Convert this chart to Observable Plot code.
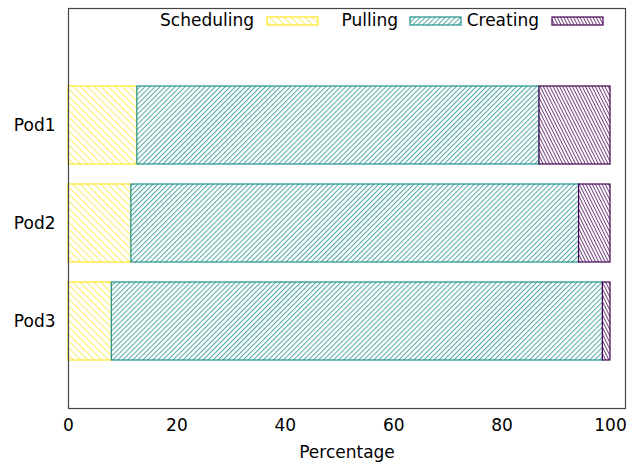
<!DOCTYPE html>
<html>
<head>
<meta charset="utf-8">
<script src="https://cdn.jsdelivr.net/npm/d3@7"></script>
<script src="https://cdn.jsdelivr.net/npm/@observablehq/plot@0.6"></script>
<style>
  body { margin: 0; background: #fff; }
  #chart svg { display: block; }
</style>
</head>
<body>
<div id="chart"></div>
<script>
// ---- data ----
const pods = ["Pod1", "Pod2", "Pod3"];
const stages = ["Scheduling", "Pulling", "Creating"];
const scheduling = [12.7, 11.6, 8.0];
const pulling = [74.2, 82.6, 90.6];
const creating = [13.1, 5.8, 1.4];
const xTicks = [0, 20, 40, 60, 80, 100];

// ---- styles ----
const stageColors = {Scheduling: "#fde725", Pulling: "#21918c", Creating: "#440154"};
const stagePatterns = {
  Scheduling: {id: "pat-sched", spacing: 4.95, angle: -45, opacity: 0.75},
  Pulling: {id: "pat-pull", spacing: 3.55, angle: 45, opacity: 0.8},
  Creating: {id: "pat-create", spacing: 2.9, angle: -26.6, opacity: 0.75}
};

const series = [scheduling, pulling, creating];
const table = [];
pods.forEach((pod, i) => {
  stages.forEach((stage, j) => {
    table.push({pod, stage, value: series[j][i]});
  });
});

const W = 639, H = 466;
const mL = 68, mR = 14, mT = 8, mB = 58;
const xMax = (W - mR - mL) / 542 * 100;

const chart = Plot.plot({
  width: W,
  height: H,
  marginLeft: mL,
  marginRight: mR,
  marginTop: mT,
  marginBottom: mB,
  style: {fontFamily: "DejaVu Sans", fontSize: "17px", color: "#000", background: "#fff"},
  x: {domain: [0, xMax]},
  y: {domain: pods, range: [76, 370], paddingInner: 0.2, paddingOuter: 0.1},
  color: {type: "identity"},
  marks: [
    Plot.barX(table, Plot.stackX({
      x: "value",
      y: "pod",
      order: stages,
      z: "stage",
      fill: d => `url(#${stagePatterns[d.stage].id})`,
      stroke: d => stageColors[d.stage],
      strokeWidth: 1.2
    })),
    Plot.frame({stroke: "#444", strokeWidth: 1.2}),
    Plot.axisX({ticks: xTicks, tickSize: 0, tickPadding: 10, fontSize: "17px",
      label: "Percentage", labelAnchor: "center", labelArrow: "none", labelOffset: 49}),
    Plot.axisY({tickSize: 0, tickPadding: 13, fontSize: "17px", label: null})
  ]
});

// pattern defs
const svg = d3.select(chart);
const defs = svg.insert("defs", ":first-child");
for (const stage of stages) {
  const p = stagePatterns[stage];
  const pat = defs.append("pattern")
    .attr("id", p.id)
    .attr("patternUnits", "userSpaceOnUse")
    .attr("width", p.spacing)
    .attr("height", 20)
    .attr("patternTransform", `rotate(${p.angle})`);
  pat.append("rect").attr("width", p.spacing).attr("height", 20).attr("fill", "#fff");
  pat.append("line")
    .attr("x1", 0.5).attr("x2", 0.5).attr("y1", 0).attr("y2", 20)
    .attr("stroke", stageColors[stage]).attr("stroke-width", 1).attr("stroke-opacity", p.opacity);
}

// legend (inside plot, top)
const legendItems = [
  {stage: "Scheduling", textEnd: 254, sw: 267},
  {stage: "Pulling", textEnd: 398, sw: 410},
  {stage: "Creating", textEnd: 539, sw: 552}
];
const lg = svg.append("g").attr("font-family", "DejaVu Sans").attr("font-size", "17px");
for (const it of legendItems) {
  lg.append("text")
    .attr("x", it.textEnd).attr("y", 26)
    .attr("text-anchor", "end").attr("fill", "#000")
    .text(it.stage);
  lg.append("rect")
    .attr("x", it.sw).attr("y", 17).attr("width", 51).attr("height", 8)
    .attr("fill", `url(#${stagePatterns[it.stage].id})`)
    .attr("stroke", stageColors[it.stage]).attr("stroke-width", 1.2);
}

document.getElementById("chart").appendChild(chart);
</script>
</body>
</html>
